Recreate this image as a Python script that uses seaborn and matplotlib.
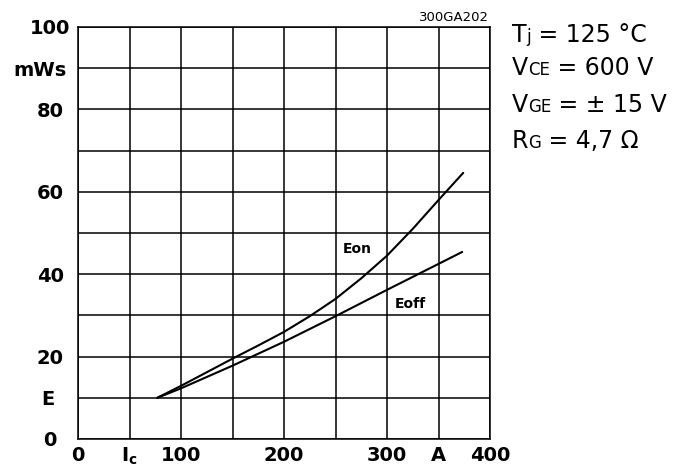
import matplotlib
matplotlib.use("Agg")
import matplotlib.pyplot as plt
import seaborn as sns
import pandas as pd

# Switching energy vs. collector current (Tj = 125 °C)
ic_on = [77, 100, 125, 150, 175, 200, 225, 250, 275, 300, 325, 350, 374]
e_on = [10.0, 12.9, 16.2, 19.5, 22.7, 26.0, 29.8, 34.0, 39.0, 44.5, 51.0, 58.0, 64.6]
ic_off = [77, 100, 150, 200, 250, 300, 350, 373]
e_off = [10.0, 12.3, 17.8, 23.6, 29.8, 36.2, 42.5, 45.4]

x_ticks = [0, 50, 100, 150, 200, 250, 300, 350, 400]
x_labels = ["0", "", "100", "", "200", "", "300", "", "400"]
y_ticks = [0, 10, 20, 30, 40, 50, 60, 70, 80, 90, 100]
y_labels = ["0", "", "20", "", "40", "", "60", "", "80", "", "100"]

conditions = [
    [("T", 17), ("j", 12), (" = 125 °C", 17)],
    [("V", 17), ("CE", 12), (" = 600 V", 17)],
    [("V", 17), ("GE", 12), (" = ± 15 V", 17)],
    [("R", 17), ("G", 12), (" = 4,7 Ω", 17)],
]

df = pd.concat([
    pd.DataFrame({"Ic": ic_on, "E": e_on, "curve": "Eon"}),
    pd.DataFrame({"Ic": ic_off, "E": e_off, "curve": "Eoff"}),
])

sns.set_style("white")
plt.rcParams["font.family"] = ["DejaVu Sans"]
plt.rcParams["text.color"] = "black"
plt.rcParams["xtick.color"] = "black"
plt.rcParams["ytick.color"] = "black"

fig = plt.figure(figsize=(6.81, 4.75), dpi=100)
ax = fig.add_axes([78 / 681, 36 / 475, 412 / 681, 412 / 475])

sns.lineplot(data=df, x="Ic", y="E", units="curve", estimator=None,
             color="black", linewidth=1.5, ax=ax, legend=False, sort=False)

ax.set_xlim(0, 400)
ax.set_ylim(0, 100)
ax.set_xticks(x_ticks)
ax.set_xticklabels(x_labels)
ax.set_yticks(y_ticks)
ax.set_yticklabels(y_labels)
ax.set_xlabel("")
ax.set_ylabel("")
ax.grid(True, color="black", linewidth=1.1)
for s in ax.spines.values():
    s.set_color("black")
    s.set_linewidth(1.1)
    s.set_visible(True)

ax.tick_params(axis="both", length=0, labelsize=14, colors="black")
ax.tick_params(axis="y", pad=20)
ax.tick_params(axis="x", pad=5)
for lab in ax.get_yticklabels():
    lab.set_fontweight("bold")
    lab.set_horizontalalignment("center")
    lab.set_verticalalignment("center_baseline")
for lab in ax.get_xticklabels():
    lab.set_fontweight("bold")

# axis quantity / unit labels placed among the tick labels
ax.annotate("mWs", xy=(0, 90), xycoords=("axes fraction", "data"),
            xytext=(-38 * 0.72, 0), textcoords="offset points",
            ha="center", va="center_baseline", fontsize=14, fontweight="bold")
ax.annotate("E", xy=(0, 10), xycoords=("axes fraction", "data"),
            xytext=(-30.5 * 0.72, 0), textcoords="offset points",
            ha="center", va="center_baseline", fontsize=14, fontweight="bold")
ax.annotate(r"$\mathbf{I}_\mathbf{c}$", xy=(50, 0), xycoords=("data", "axes fraction"),
            xytext=(0, -5), textcoords="offset points",
            ha="center", va="top", fontsize=14, fontweight="bold")
ax.annotate("A", xy=(350, 0), xycoords=("data", "axes fraction"),
            xytext=(0, -5), textcoords="offset points",
            ha="center", va="top", fontsize=14, fontweight="bold")

# curve names
ax.text(271, 46.1, "Eon", ha="center", va="center", fontsize=10, fontweight="bold")
ax.text(323, 32.8, "Eoff", ha="center", va="center", fontsize=10, fontweight="bold")

# drawing reference number
fig.text(489 / 681, 1 - 21 / 475, "300GA202", ha="right", va="baseline",
         fontsize=9.5)

# test conditions, with subscripts on the same baseline
renderer = fig.canvas.get_renderer()
baselines = [42, 75, 112, 148]
for parts, yb in zip(conditions, baselines):
    x_px = 512.0
    for txt, size in parts:
        t = fig.text(x_px / 681, 1 - yb / 475, txt, ha="left", va="baseline",
                     fontsize=size, family=["DejaVu Sans"])
        bb = t.get_window_extent(renderer=renderer)
        x_px += bb.width

fig.savefig("out.png", dpi=100, facecolor="white")
